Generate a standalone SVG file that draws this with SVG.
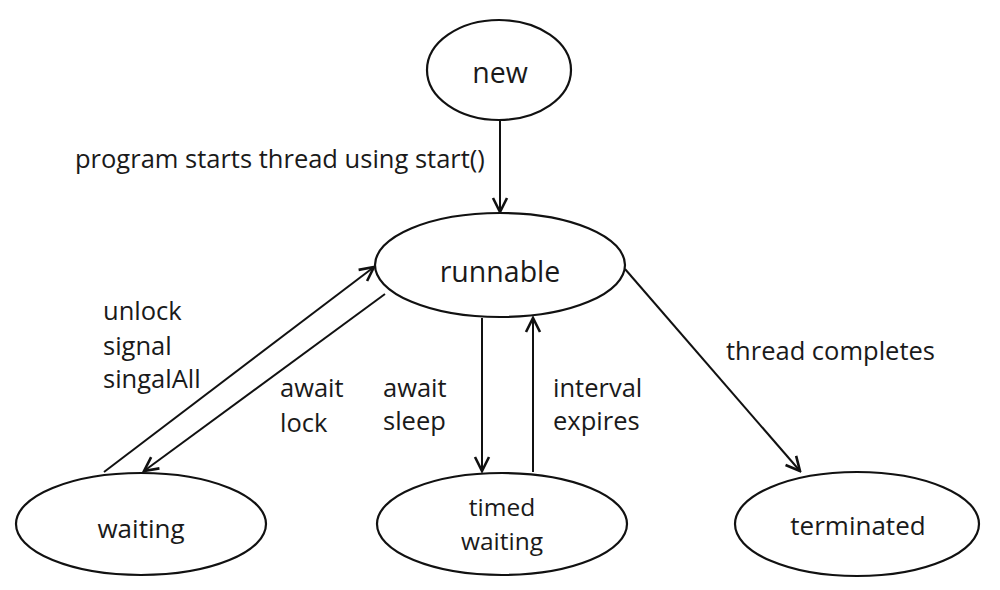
<svg xmlns="http://www.w3.org/2000/svg" width="1000" height="590" viewBox="0 0 1000 590">
<style>
.node ellipse{fill:#fff;stroke:#111;stroke-width:2.2}
text{font-family:"Open Sans","Liberation Sans",sans-serif;font-size:25.5px;fill:#1a1a1a}
.c{text-anchor:middle;font-size:26px}
.big{font-size:28.5px}
.sm{font-size:24.5px}
.edge{stroke:#111;stroke-width:2;fill:none;marker-end:url(#arr)}
</style>
<defs>
<marker id="arr" viewBox="0 0 20 20" refX="18" refY="10" markerWidth="20" markerHeight="20" markerUnits="userSpaceOnUse" orient="auto">
<path d="M4,3 L18,10 L4,17" fill="none" stroke="#111" stroke-width="2.6"/>
</marker>
</defs>
<rect width="1000" height="590" fill="#fff"/>
<g id="connectors">
<line class="edge" x1="500" y1="120" x2="500" y2="212"/>
<line class="edge" x1="104" y1="472" x2="374" y2="267"/>
<line class="edge" x1="385" y1="294" x2="144" y2="471"/>
<line class="edge" x1="482" y1="318" x2="482" y2="471"/>
<line class="edge" x1="533" y1="472" x2="533" y2="318"/>
<line class="edge" x1="625" y1="269" x2="800" y2="471"/>
</g>
<g id="labels">
<text x="75" y="168">program starts thread using start()</text>
<text x="103" y="320">unlock</text>
<text x="103" y="355">signal</text>
<text x="103" y="388">singalAll</text>
<text x="280" y="397">await</text>
<text x="280" y="432">lock</text>
<text x="383" y="397">await</text>
<text x="383" y="430">sleep</text>
<text x="553" y="397">interval</text>
<text x="553" y="430">expires</text>
<text x="726" y="360">thread completes</text>
</g>
<g id="new" class="node"><ellipse cx="499" cy="70" rx="72" ry="50"/><text class="c big" x="500" y="83">new</text></g>
<g id="runnable" class="node"><ellipse cx="500" cy="265" rx="125" ry="52"/><text class="c big" x="500" y="282">runnable</text></g>
<g id="waiting" class="node"><ellipse cx="141" cy="524" rx="125" ry="51"/><text class="c" x="141" y="538">waiting</text></g>
<g id="timed_waiting" class="node"><ellipse cx="502" cy="524" rx="125" ry="51"/><text class="c sm" x="502" y="516">timed</text><text class="c sm" x="502" y="550">waiting</text></g>
<g id="terminated" class="node"><ellipse cx="857" cy="524" rx="122" ry="52"/><text class="c" x="858" y="535">terminated</text></g>
</svg>
